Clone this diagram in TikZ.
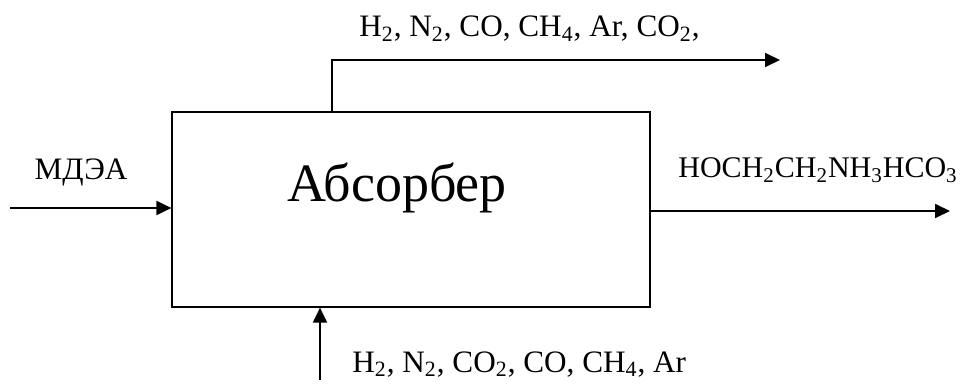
\documentclass[tikz,border=0pt]{standalone}
\usepackage{fontspec}
\setmainfont{Liberation Serif}
\usetikzlibrary{arrows.meta}
\tikzset{
  px/.style={x=0.5pt,y=-0.5pt},
  flow/.style={line width=1pt,-{Triangle[length=7.5pt,width=7pt]}},
  lbl/.style={inner sep=0pt,font=\fontsize{15.6}{18}\selectfont},
  prodlbl/.style={inner sep=0pt,font=\fontsize{15}{18}\selectfont},
  unit/.style={draw,line width=0.6pt,minimum width=239pt,minimum height=97.5pt,inner sep=0pt},
  title/.style={inner sep=0pt,font=\fontsize{27}{30}\selectfont}
}
\begin{document}
\begin{tikzpicture}[px]
\useasboundingbox (0,0) rectangle (971,385);
\node[unit] (box) at (411,209.5) {};
\node[title,anchor=base west] (ttl) at (287,202) {Абсорбер};
% inputs / outputs
\coordinate (inL) at (10,208);
\coordinate (outR) at (950,211);
\coordinate (topEnd) at (780,60);
\coordinate (topStart) at (332,112);
\coordinate (botStart) at (320,380);
\draw[flow] (inL) -- (inL -| box.west);
\draw[flow] (outR -| box.east) -- (outR);
\draw[flow] (topStart) |- (topEnd);
\draw[flow] (botStart) -- (botStart |- box.south);
% labels
\node[lbl,anchor=center] (mdea) at (81,172) {МДЭА};
\node[prodlbl,anchor=base west] (prod) at (678,178) {HOCH\textsubscript{2}CH\textsubscript{2}NH\textsubscript{3}HCO\textsubscript{3}};
\node[lbl,anchor=base west] (gasout) at (359,37) {H\textsubscript{2}, N\textsubscript{2}, CO, CH\textsubscript{4}, Ar, CO\textsubscript{2},};
\node[lbl,anchor=base west] (gasin) at (352,372) {H\textsubscript{2}, N\textsubscript{2}, CO\textsubscript{2}, CO, CH\textsubscript{4}, Ar};
\end{tikzpicture}
\end{document}
